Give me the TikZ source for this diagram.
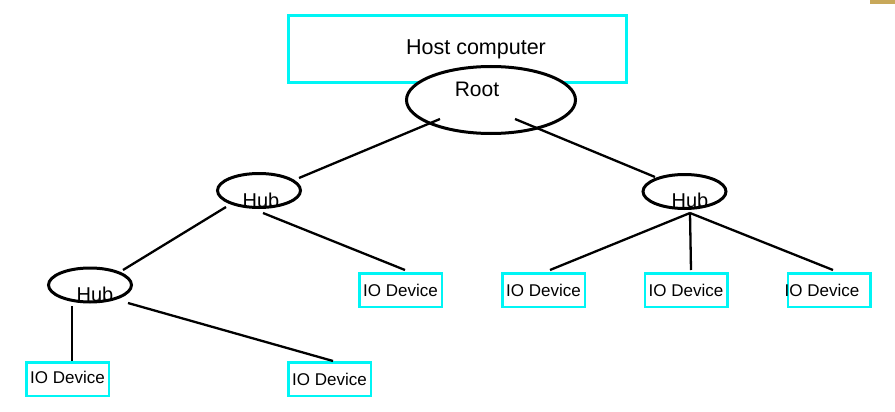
\documentclass[tikz,border=0pt]{standalone}
\usepackage{fontspec}
\setmainfont{Liberation Sans}
\usepackage{xcolor}
\usepackage{tikz}
\usetikzlibrary{shapes.geometric, calc}
\definecolor{boxcyan}{RGB}{0,245,245}
\definecolor{scrapgold}{RGB}{200,168,90}
\tikzstyle{hostbox} = [rectangle, minimum width=338pt, minimum height=67pt, inner sep=0pt, draw=boxcyan, line width=2.5pt, font=\fontsize{21.5}{24}\selectfont]
\tikzstyle{rootnode} = [ellipse, minimum width=169pt, minimum height=67pt, inner sep=0pt, draw=black, fill=white, line width=3pt]
\tikzstyle{hubnode} = [ellipse, minimum width=83pt, minimum height=34pt, inner sep=0pt, draw=black, fill=white, line width=3pt]
\tikzstyle{iobox} = [rectangle, minimum width=82.5pt, minimum height=33.5pt, inner sep=0pt, draw=boxcyan, line width=2.5pt, font=\fontsize{17}{20}\selectfont]
\tikzstyle{link} = [line width=2.3pt, black]
\begin{document}
\begin{tikzpicture}[x=1pt, y=-1pt]
            \useasboundingbox (0,0) rectangle (895,412);
            \fill[scrapgold] (870,0) rectangle (895,4);
            \node (host) [hostbox] at (457.5,49) {\hspace{37pt}Host computer};
            \node (root) [rootnode, label={[xshift=-14pt, yshift=11pt, font=\fontsize{21}{24}\selectfont]center:Root}] at (491,100) {};
            \node (lhub) [hubnode, label={[xshift=2pt, yshift=-9.5pt, font=\fontsize{20}{24}\selectfont]center:Hub}] at (259,190.5) {};
            \node (rhub) [hubnode, label={[xshift=5.5pt, yshift=-8.5pt, font=\fontsize{20}{24}\selectfont]center:Hub}] at (684.5,191.5) {};
            \node (llhub) [hubnode, label={[xshift=5pt, yshift=-9pt, font=\fontsize{20}{24}\selectfont]center:Hub}] at (90,285) {};
            \node (devA) [iobox] at (67.5,379) {\raisebox{3pt}{IO Device}};
            \node (devB) [iobox] at (329.5,379) {IO Device};
            \node (devC) [iobox] at (400.5,290) {IO Device};
            \node (devD) [iobox] at (543.5,290) {IO Device};
            \node (devE) [iobox] at (686,290) {IO Device};
            \node (devF) [iobox] at (829,290) {\hspace{-14pt}IO Device};

            \draw [link] ($(root)+(-51,19)$) -- ($(lhub)+(40,-12.5)$);
            \draw [link] ($(root)+(24,19)$) -- ($(rhub)+(-29.5,-14.5)$);
            \draw [link] ($(lhub)+(-33,16.5)$) -- ($(llhub)+(33,-15)$);
            \draw [link] ($(lhub)+(4,22.5)$) -- ($(devC)+(4.5,-20)$);
            \draw [link] ($(rhub)+(5.5,21.5)$) -- ($(devD)+(6.5,-20)$);
            \draw [link] ($(rhub)+(5.5,21.5)$) -- ($(devE)+(5,-20)$);
            \draw [link] ($(rhub)+(5.5,21.5)$) -- ($(devF)+(4,-20)$);
            \draw [link] ($(llhub)+(-18,21)$) -- ($(devA)+(4.5,-18)$);
            \draw [link] ($(llhub)+(38,18)$) -- ($(devB)+(3.5,-18)$);
        \end{tikzpicture}
\end{document}
